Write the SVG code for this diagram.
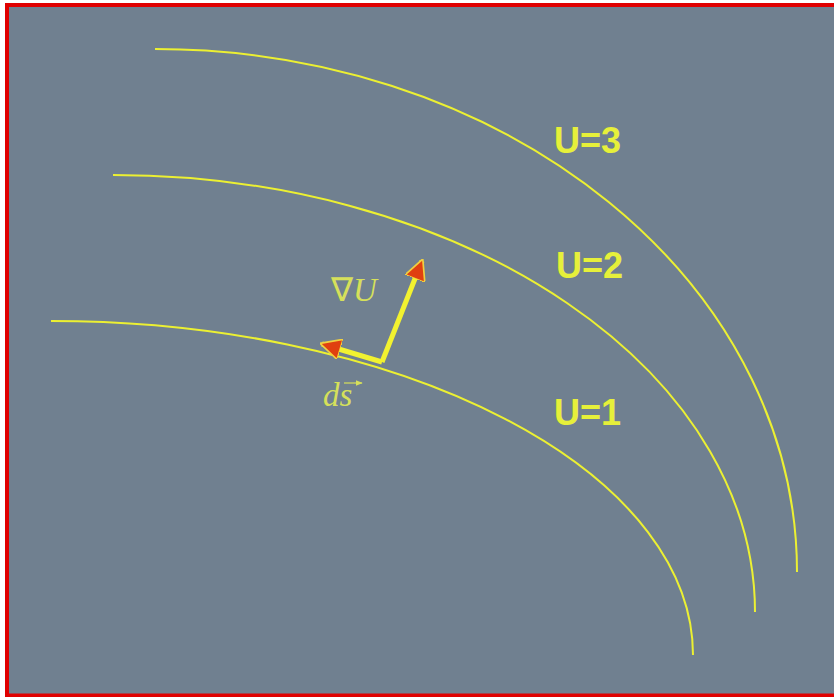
<svg xmlns="http://www.w3.org/2000/svg" width="834" height="697" viewBox="0 0 834 697">
<style>
.curve{fill:none;stroke:#ecf032;stroke-width:2}
.lbl{font-family:"Liberation Sans",Arial,sans-serif;font-weight:bold;font-size:36px;fill:#e6f03a}
.math{font-family:"Liberation Serif","Times New Roman",serif;font-size:33px;fill:#d6e05a}
.vec{stroke:#f2f230;stroke-width:5;fill:none}
</style>
<defs>
<marker id="ah" viewBox="0 0 10 10" refX="9" refY="5" markerWidth="4.2" markerHeight="4.2" orient="auto" markerUnits="strokeWidth">
<path d="M0,0 L10,5 L0,10 z" fill="#e04010" stroke="#f0d040" stroke-width="0.8"/>
</marker>
<marker id="sh" viewBox="0 0 10 10" refX="9" refY="5" markerWidth="6" markerHeight="6" orient="auto">
<path d="M0,1 L10,5 L0,9 z" fill="#d6e05a"/>
</marker>
</defs>
<rect x="0" y="0" width="834" height="697" fill="#ffffff"/>
<rect x="7" y="5" width="850" height="690.5" fill="#708090" stroke="#e00000" stroke-width="4"/>
<g id="connectors">
<path id="curve-u1" class="curve" d="M51,321 A642,334 0 0 1 693,655"/>
<path id="curve-u2" class="curve" d="M113,175 A642,437 0 0 1 755,612"/>
<path id="curve-u3" class="curve" d="M155,49 A642,523 0 0 1 797,572"/>
<line id="grad-vec" class="vec" x1="382" y1="362" x2="422" y2="261" marker-end="url(#ah)"/>
<line id="ds-vec" class="vec" x1="382" y1="362" x2="322" y2="344" marker-end="url(#ah)"/>
</g>
<g id="label-u3"><text class="lbl" x="554" y="153">U=3</text></g>
<g id="label-u2"><text class="lbl" x="556" y="278">U=2</text></g>
<g id="label-u1"><text class="lbl" x="554" y="425">U=1</text></g>
<g id="label-grad"><text class="math" x="331" y="301">∇<tspan font-style="italic">U</tspan></text></g>
<g id="label-ds">
<text class="math" font-style="italic" x="323" y="406">ds</text>
<line x1="344" y1="383" x2="362" y2="383" stroke="#d6e05a" stroke-width="1.2" marker-end="url(#sh)"/>
</g>
</svg>
